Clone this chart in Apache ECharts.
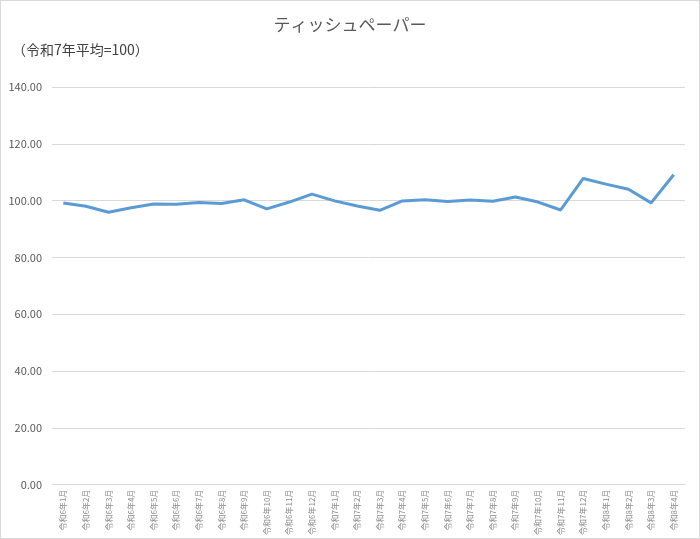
<!DOCTYPE html>
<html>
<head>
	<meta charset="UTF-8">
	<title>ティッシュペーパー</title>
	<script src="https://cdn.jsdelivr.net/npm/echarts@6/dist/echarts.min.js"></script>
	<style>
		html, body { margin:0; padding:0; background:#fff; }
		#canvas { width:700px; height:539px; box-sizing:border-box; border:1px solid #d9d9d9; }
	</style>
</head>
<body>
	<div id="canvas"></div>
<script type="text/javascript">
	// 月ラベル（令和6年1月〜令和8年4月）
	var months = [
		'令和6年1月','令和6年2月','令和6年3月','令和6年4月','令和6年5月','令和6年6月',
		'令和6年7月','令和6年8月','令和6年9月','令和6年10月','令和6年11月','令和6年12月',
		'令和7年1月','令和7年2月','令和7年3月','令和7年4月','令和7年5月','令和7年6月',
		'令和7年7月','令和7年8月','令和7年9月','令和7年10月','令和7年11月','令和7年12月',
		'令和8年1月','令和8年2月','令和8年3月','令和8年4月'
	];
	// 指数（令和7年平均=100）
	var indexValues = [
		99.2, 98.0, 95.9, 97.5, 98.8, 98.7, 99.3, 99.0, 100.3, 97.1, 99.5, 102.3,
		99.9, 98.1, 96.6, 99.9, 100.3, 99.7, 100.2, 99.8, 101.3, 99.5, 96.7, 107.8,
		105.8, 104.0, 99.2, 109.1
	];
	var yTicks = [0, 20, 40, 60, 80, 100, 120, 140];

	var myChart = echarts.init(document.getElementById("canvas"));

	var option = {
		animation: false,
		title: [
			{
				text: 'ティッシュペーパー',
				left: 'center',
				top: 10,
				textStyle: { fontSize: 17, fontWeight: 'normal', color: '#595959', fontFamily: 'Noto Sans CJK JP' }
			},
			{
				text: '（令和7年平均=100）',
				left: 6,
				top: 37,
				textStyle: { fontSize: 14, fontWeight: 'normal', color: '#404040', fontFamily: 'Noto Sans CJK JP' }
			}
		],
		grid: { left: 51, right: 14, top: 86, bottom: 49, containLabel: false },
		xAxis: {
			type: 'category',
			data: months,
			boundaryGap: true,
			axisLine: { show: true, lineStyle: { color: '#d9d9d9' } },
			axisTick: { show: false },
			axisLabel: {
				interval: 0,
				rotate: 90,
				fontSize: 8,
				color: '#8c8c8c',
				margin: 5,
				fontFamily: 'Noto Sans CJK JP'
			}
		},
		yAxis: {
			type: 'value',
			min: yTicks[0],
			max: yTicks[yTicks.length - 1],
			interval: 20,
			axisLine: { show: false },
			axisTick: { show: false },
			splitLine: { lineStyle: { color: '#d9d9d9' } },
			axisLabel: {
				fontSize: 11,
				color: '#595959',
				margin: 10,
				fontFamily: 'Noto Sans CJK JP',
				formatter: function (v) { return v.toFixed(2); }
			}
		},
		series: [
			{
				name: 'ティッシュペーパー',
				type: 'line',
				data: indexValues,
				symbol: 'none',
				smooth: false,
				lineStyle: { color: '#5b9bd5', width: 3 }
			}
		]
	};

	myChart.setOption(option);
</script>
</body>
</html>
